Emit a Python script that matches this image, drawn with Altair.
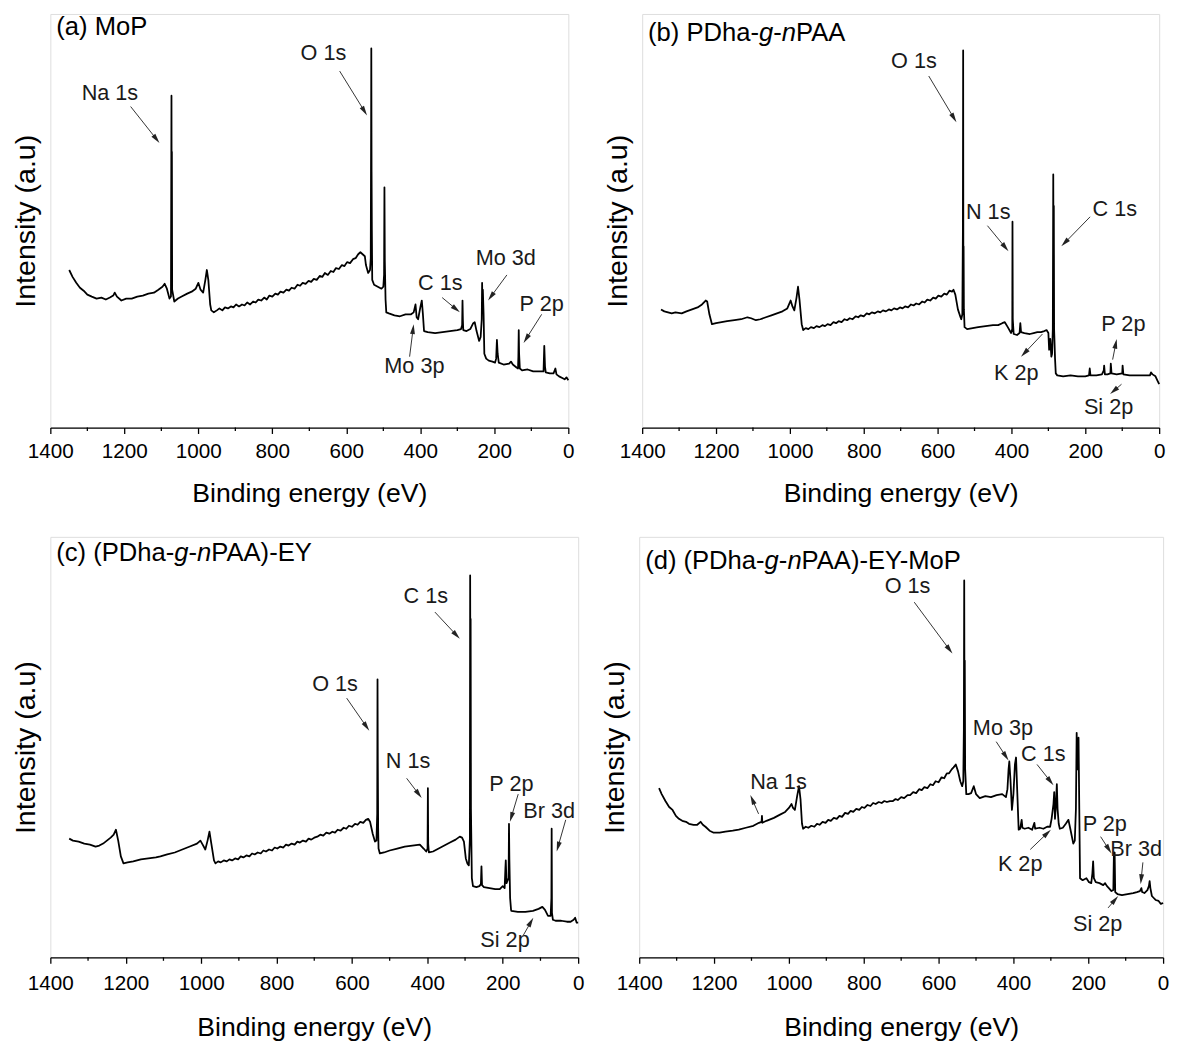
import math
import altair as alt
import pandas as pd

FONT = "Liberation Sans"

# ---------------- Panel (a) MoP ----------------
a_energy = [1349, 1340, 1330, 1320, 1310, 1300, 1288, 1275, 1262, 1250, 1239, 1230, 1226, 1220, 1208, 1195,
            1180, 1165, 1150, 1135, 1120, 1108, 1097, 1091, 1085, 1078, 1074, 1072.6, 1072.0, 1071.5, 1070.8,
            1065, 1055, 1045, 1030, 1018, 1007, 1000, 994, 987, 981, 977, 973, 968,
            965, 958, 950, 943, 935, 928, 920, 912, 905, 898, 890, 882, 875, 868, 860, 852, 845, 838, 830,
            822, 815, 808, 800, 792, 785, 778, 770, 762, 755, 748, 740, 732, 725, 718, 710, 702, 695, 688,
            680, 672, 665, 658, 650, 642, 635, 628, 620, 612, 605, 598, 590, 582, 575, 568, 562,
            556, 550, 547, 541, 536, 534, 533, 532.5, 531.8, 531, 530, 525, 515, 505, 500, 498, 497, 496, 494,
            492, 485, 470, 455, 440, 425, 418, 413, 410, 406, 400, 396, 393, 390, 380, 360, 340, 320, 300, 290,
            287, 286, 285, 284, 275, 265, 257, 253, 248, 241, 237, 234, 233, 232, 231, 229, 227, 222, 215, 205,
            198, 195, 193, 191, 188, 175, 160, 155, 150, 140, 136, 135, 134, 133, 131, 125, 110, 95, 80, 67,
            65, 63, 61, 50, 40, 37, 35, 32, 25, 15, 10, 5, 0]
a_intensity = [160, 153, 147, 142, 139, 135, 133, 131, 132, 130, 132, 134, 137, 133, 129, 131,
               131, 133, 134, 136, 137, 140, 143, 146, 141, 131, 133, 337, 200, 280, 140,
               128, 131, 133, 136, 138, 141, 147, 140, 137, 150, 160, 150, 125,
               119, 117, 119, 121, 119, 122, 121, 123, 122, 125, 123, 125, 124, 127, 125, 128, 127, 130, 129,
               132, 130, 134, 133, 136, 135, 138, 137, 140, 139, 142, 141, 145, 144, 147, 146, 149, 148, 151,
               150, 154, 153, 157, 155, 159, 158, 162, 161, 165, 164, 168, 167, 171, 172, 176, 178,
               176, 174, 165, 157, 160, 172, 300, 385, 260, 200, 150, 145, 143, 141, 143, 155, 244, 170, 130,
               117, 116, 114, 113, 115, 115, 117, 125, 112, 110, 122, 129, 115, 98, 97, 96, 97, 98, 99, 100,
               104, 129, 110, 99, 98, 100, 106, 107, 98, 88, 92, 110, 147, 120, 140, 115, 75, 70, 68, 67,
               66, 70, 89, 75, 66, 64, 65, 67, 64, 61, 60, 72, 99, 75, 60, 58, 59, 57, 57, 57,
               83, 62, 56, 55, 55, 58, 60, 54, 52, 50, 49, 51, 48]
a_labels = ["Na 1s", "O 1s", "C 1s", "Mo 3d", "P 2p", "Mo 3p"]
a_text_e = [1239, 662, 346, 169, 72, 416]
a_text_i = [340, 380, 147, 172, 125, 62]
a_from_e = [1183, 618, 341, 166, 72, 429]
a_from_i = [326, 362, 132, 155, 115, 72]
a_to_e = [1105, 544, 293, 217, 121, 418]
a_to_i = [289, 317, 117, 129, 86, 105]

# ---------------- Panel (b) PDha-g-nPAA ----------------
b_energy = [1349, 1340, 1330, 1320, 1310, 1293, 1280, 1265, 1250, 1238, 1228, 1224, 1218, 1211, 1200, 1185,
            1170, 1150, 1132, 1115, 1105, 1092, 1080, 1065, 1050, 1035, 1020, 1007, 998, 993, 988, 982, 978,
            974, 968,
            964, 957, 950, 943, 935, 928, 920, 912, 905, 898, 890, 882, 875, 868, 860, 852, 845, 838, 830,
            822, 815, 808, 800, 792, 785, 778, 770, 762, 755, 748, 740, 732, 725, 718, 710, 702, 695, 688,
            680, 672, 665, 658, 650, 642, 635, 628, 620, 612, 605, 598, 590, 582, 575, 568, 561, 557,
            552, 545, 538, 536, 533, 531.5, 530.8, 530.2, 529.6, 528.8, 527,
            520, 505, 490, 470, 450, 436, 425, 418, 410, 401, 397.8, 397.2, 396.4, 394, 385, 378, 376, 374,
            365, 350, 340, 330, 320, 311, 305, 300, 298, 295, 292, 290, 288, 286.8, 286, 285.3, 284.5, 282,
            280, 276, 260, 240, 220, 200, 190, 188, 186, 170, 155, 150, 149, 147, 140, 132, 131, 129, 115,
            100, 99, 97, 80, 60, 40, 25, 22, 18, 10, 5, 0]
b_intensity = [120, 118, 117, 116, 117, 116, 118, 120, 122, 125, 129, 128, 115, 105, 106, 107,
               108, 109, 110, 112, 111, 109, 110, 112, 114, 116, 118, 121, 129, 123, 119, 132, 143,
               130, 105,
               99, 101, 100, 102, 101, 103, 102, 104, 103, 105, 104, 107, 106, 108, 107, 110, 109, 111, 110,
               113, 112, 114, 113, 116, 115, 117, 116, 118, 117, 119, 118, 120, 119, 121, 120, 122, 121, 123,
               122, 125, 124, 126, 125, 128, 127, 130, 129, 132, 131, 134, 133, 136, 135, 139, 138, 140,
               135, 120, 112, 110, 115, 200, 383, 150, 184, 120, 102,
               100, 101, 102, 103, 104, 104, 106, 107, 102, 96, 100, 209, 110, 95, 94, 96, 106, 97,
               96, 95, 96, 97, 97, 98, 99, 96, 79, 90, 72, 75, 100, 257, 150, 225, 100, 70,
               55, 53, 52, 53, 52, 52, 53, 60, 53, 53, 54, 58, 63, 54, 54, 55, 65, 55, 54,
               55, 63, 54, 53, 53, 53, 53, 56, 54, 52, 48, 44]
b_labels = ["O 1s", "N 1s", "C 1s", "K 2p", "P 2p", "Si 2p"]
b_text_e = [664, 463, 120, 387, 97, 137]
b_text_i = [372, 219, 222, 55, 105, 21]
b_from_e = [624, 465, 187, 316, 126, 102]
b_from_i = [357, 205, 214, 95, 69, 44]
b_to_e = [549, 408, 265, 374, 115, 133]
b_to_i = [310, 179, 184, 72, 90, 34]

# ---------------- Panel (c) (PDha-g-nPAA)-EY ----------------
c_energy = [1350, 1340, 1325, 1310, 1295, 1280, 1270, 1260, 1250, 1240, 1232, 1226, 1220, 1213, 1206, 1195,
            1180, 1160, 1140, 1120, 1108, 1090, 1070, 1050, 1030, 1011, 1002, 996, 989, 983, 978, 973, 966,
            962, 955, 948, 940, 932, 925, 918, 910, 902, 895, 888, 880, 872, 865, 858, 850, 842, 835, 828,
            820, 812, 805, 798, 790, 782, 775, 768, 760, 752, 745, 738, 730, 722, 715, 708, 700, 692, 684,
            676, 668, 660, 652, 645, 638, 630, 622, 615, 608, 600, 592, 585, 578, 570, 563, 557,
            552, 545, 539, 535, 533, 532.2, 531.5, 530.5, 529.5, 526, 515, 500, 480, 460, 440,
            420, 410, 403, 399.5, 398.6, 397.8, 396, 385, 370, 355, 340, 325, 314, 308, 303, 298, 294, 290,
            287.2, 286.5, 285.8, 285.2, 284.4, 282, 279, 270, 262, 258, 256.5, 255, 250, 235, 220, 208, 200,
            195, 193, 192, 190, 184.5, 183.5, 182.5, 180.5, 178, 177, 160, 140, 120, 105, 95, 88, 80, 73, 71,
            70.3, 69.5, 67, 60, 45, 30, 20, 12, 8, 4, 0]
c_intensity = [120, 118, 117, 115, 114, 112, 113, 115, 118, 121, 124, 129, 118, 102, 95, 96,
               97, 99, 100, 101, 102, 104, 106, 109, 112, 115, 118, 114, 109, 118, 127, 115, 98,
               95, 97, 96, 98, 97, 99, 98, 100, 99, 102, 101, 103, 102, 105, 104, 106, 105, 108, 107,
               109, 108, 111, 110, 112, 111, 114, 113, 115, 114, 117, 116, 118, 117, 120, 119, 121, 122, 124,
               123, 126, 125, 127, 126, 129, 128, 131, 130, 133, 132, 135, 134, 137, 136, 139, 140,
               137, 125, 117, 118, 145, 281, 200, 130, 110, 105, 106, 108, 110, 112, 113,
               114, 110, 107, 110, 171, 115, 106, 107, 110, 113, 116, 119, 122, 121, 117, 100, 95, 93,
               120, 386, 250, 342, 150, 80, 72, 71, 72, 74, 92, 73, 71, 70, 69, 69, 72,
               70, 90, 98, 75, 80, 135, 100, 60, 48, 47, 46, 46, 47, 49, 51, 48, 42, 42, 60,
               130, 45, 38, 37, 37, 36, 36, 38, 40, 35, 35]
c_labels = ["O 1s", "C 1s", "N 1s", "P 2p", "Br 3d", "Si 2p"]
c_text_e = [645, 404, 451, 177, 77, 194]
c_text_i = [276, 365, 198, 175, 148, 17]
c_from_e = [614, 380, 455, 159, 33, 146]
c_from_i = [262, 349, 181, 165, 139, 22]
c_to_e = [554, 314, 415, 181, 57, 119]
c_to_i = [229, 322, 161, 137, 107, 40]

# ---------------- Panel (d) (PDha-g-nPAA)-EY-MoP ----------------
d_energy = [1347, 1340, 1330, 1320, 1311, 1302, 1294, 1285, 1275, 1267, 1255, 1245, 1236, 1230, 1223, 1212,
            1201, 1185, 1170, 1150, 1134, 1115, 1095, 1080, 1073, 1072, 1071, 1060, 1040, 1025, 1010, 1000,
            993, 989, 984, 978, 973, 969, 965,
            962, 955, 948, 940, 932, 925, 918, 910, 902, 895, 888, 880, 872, 865, 858, 850, 842, 835, 828,
            820, 812, 805, 798, 790, 782, 775, 768, 760, 752, 745, 738, 730, 722, 715, 709, 700, 692, 683,
            676, 668, 660, 652, 645, 638, 630, 622, 615, 608, 600, 592, 585, 578, 572, 565, 560, 554,
            548, 542, 537, 534, 532.5, 531.5, 530.7, 530,
            529, 526, 520, 513, 506, 500, 490, 475, 460, 445, 430, 420, 416, 413, 411, 408, 404, 400, 396,
            393, 390, 386, 382, 378, 376, 370, 360, 350, 344, 342, 330, 320, 310, 302, 298, 293, 291, 289,
            287, 284, 282, 279, 276, 268, 260, 253, 248, 240, 236, 233, 231, 229, 227, 226, 224, 222, 215,
            205, 198, 192, 189, 187, 185, 180, 170, 160, 155, 150, 145, 138, 133, 131.5, 130.5, 129.5, 128,
            122, 110, 95, 80, 70, 62, 58, 56, 50, 42, 38, 36, 34, 30, 25, 20, 12, 6, 0]
d_intensity = [171, 165, 158, 152, 149, 143, 140, 138, 137, 135, 134, 134, 137, 134, 132, 128,
               126, 126, 127, 128, 129, 131, 133, 136, 137, 143, 136, 138, 141, 144, 147, 151,
               155, 151, 149, 163, 173, 160, 135,
               130, 132, 131, 133, 132, 135, 134, 137, 136, 139, 138, 141, 140, 143, 142, 146, 145, 148, 147,
               150, 149, 152, 151, 154, 153, 156, 155, 157, 156, 158, 157, 158, 158, 160, 159, 162, 161, 164,
               164, 167, 166, 170, 169, 172, 171, 175, 174, 178, 177, 182, 181, 186, 186, 190, 192, 195,
               188, 178, 173, 178, 230, 381, 230, 300,
               190, 165, 165, 166, 173, 165, 161, 163, 162, 164, 165, 162, 170, 190, 198, 180, 149, 165, 195,
               202, 170, 129, 130, 139, 131, 130, 131, 129, 136, 130, 131, 130, 132, 132, 140, 155, 167, 140,
               150, 175, 150, 135, 130, 131, 135, 139, 130, 115, 118, 150, 227, 190, 200, 222, 150, 80, 78,
               80, 76, 75, 85, 97, 80, 76, 75, 73, 75, 72, 70, 67, 68, 106, 105, 106, 66,
               64, 63, 64, 65, 66, 67, 70, 66, 65, 68, 72, 77, 70, 62, 60, 58, 57, 54, 55]
d_labels = ["O 1s", "Na 1s", "Mo 3p", "C 1s", "K 2p", "P 2p", "Br 3d", "Si 2p"]
d_text_e = [683, 1028, 428, 320, 382, 156, 72, 175]
d_text_i = [375, 177, 232, 205, 94, 135, 109, 34]
d_from_e = [665, 1081, 446, 337, 355, 167, 54, 147]
d_from_i = [359, 145, 218, 195, 109, 122, 96, 50]
d_to_e = [563, 1103, 413, 293, 300, 138, 60, 120]
d_to_i = [307, 164, 199, 174, 129, 105, 74, 62]

# panel titles: (text, italic)
a_title = [("(a) MoP", False)]
b_title = [("(b) PDha-", False), ("g", True), ("-", False), ("n", True), ("PAA", False)]
c_title = [("(c) (PDha-", False), ("g", True), ("-", False), ("n", True), ("PAA)-EY", False)]
d_title = [("(d) (PDha-", False), ("g", True), ("-", False), ("n", True), ("PAA)-EY-MoP", False)]

# axis ticks
major_ticks = [0, 200, 400, 600, 800, 1000, 1200, 1400]
minor_ticks = [100, 300, 500, 700, 900, 1100, 1300]

# Arial / Liberation Sans advance widths (1/1000 em)
ADV = {' ': 278, '(': 333, ')': 333, '-': 333, 'a': 556, 'b': 556, 'c': 500, 'd': 556, 'g': 556,
       'h': 556, 'n': 556, 'o': 556, 'M': 833, 'P': 667, 'D': 722, 'A': 667, 'E': 667, 'Y': 667}

TITLE_SIZE = 26
HEAD_PATH = "M0,-1L0.5,1L-0.5,1Z"
HEAD_SIZE = 100
HEAD_HALF = 5.0


def make_panel(energy, intensity, ymax, W, H, labels, te, ti, fe, fi, ae, ai, title, ytpad, title_y,
               lab_pad, xt_pad):
    assert len(energy) == len(intensity)
    spec = pd.DataFrame({"E": energy, "I": intensity, "idx": list(range(len(energy)))})
    xs = alt.Scale(domain=[0, 1400], reverse=True, nice=False, zero=False)
    ys = alt.Scale(domain=[0, ymax], nice=False, zero=False)
    xtitle = "Binding energy (eV)"
    ytitle = "Intensity (a.u)"
    xaxis = alt.Axis(values=major_ticks, format="d", tickSize=6,
                     tickWidth=1.3, tickColor="black", domainColor="black", domainWidth=1.3,
                     labelFontSize=21, labelColor="black", labelPadding=lab_pad, labelFlush=False,
                     labelOverlap=False, labelFont=FONT, titleFont=FONT, titleFontSize=27,
                     titleFontWeight="normal", titleColor="black", titlePadding=xt_pad, grid=False)
    yaxis = alt.Axis(labels=False, ticks=False, domain=False, grid=False, titleFont=FONT,
                     titleFontSize=29, titleFontWeight="normal", titleColor="black", titlePadding=ytpad)

    line = alt.Chart(spec).mark_line(color="black", strokeWidth=1.8, strokeJoin="round").encode(
        x=alt.X("E:Q", scale=xs, axis=xaxis, title=xtitle),
        y=alt.Y("I:Q", scale=ys, axis=yaxis, title=ytitle),
        order=alt.Order("idx:Q"),
    )

    minor = alt.Chart(pd.DataFrame({"m": minor_ticks})).mark_rule(color="black", strokeWidth=1.3).encode(
        x=alt.X("m:Q", scale=xs, title=xtitle), y=alt.value(H), y2=alt.value(H + 3.5))

    rows = []
    for k in range(len(labels)):
        sx = -(ae[k] - fe[k]) * W / 1400.0
        sy = -(ai[k] - fi[k]) * H / ymax
        L = math.hypot(sx, sy)
        ux, uy = sx / L, sy / L
        ang = math.degrees(math.atan2(ux, -uy)) % 360
        he = ae[k] + ux * HEAD_HALF * 1400.0 / W
        hi = ai[k] + uy * HEAD_HALF * ymax / H
        rows.append({"label": labels[k], "te": te[k], "ti": ti[k], "fe": fe[k], "fi": fi[k],
                     "he": he, "hi": hi, "ang": ang})
    ann = pd.DataFrame(rows)

    rules = alt.Chart(ann).mark_rule(color="#333333", strokeWidth=1).encode(
        x=alt.X("fe:Q", scale=xs, title=xtitle), y=alt.Y("fi:Q", scale=ys, title=ytitle),
        x2="he:Q", y2="hi:Q")
    heads = alt.Chart(ann).mark_point(shape=HEAD_PATH, filled=True, opacity=1, color="#222222",
                                      size=HEAD_SIZE, strokeWidth=0).encode(
        x=alt.X("he:Q", scale=xs, title=xtitle), y=alt.Y("hi:Q", scale=ys, title=ytitle),
        angle=alt.Angle("ang:Q", scale=None))
    texts = alt.Chart(ann).mark_text(font=FONT, fontSize=22, color="#1a1a1a", align="center",
                                     baseline="middle").encode(
        x=alt.X("te:Q", scale=xs, title=xtitle), y=alt.Y("ti:Q", scale=ys, title=ytitle),
        text="label:N")

    layers = [line, minor, rules, heads, texts]
    xpos = 6.0
    for seg, ital in title:
        one = pd.DataFrame({"t": [seg]})
        layers.append(alt.Chart(one).mark_text(font=FONT, fontSize=TITLE_SIZE, color="black",
                                               align="left", baseline="middle",
                                               fontStyle="italic" if ital else "normal").encode(
            x=alt.value(xpos), y=alt.value(title_y), text="t:N"))
        xpos += sum(ADV.get(ch, 556) for ch in seg) / 1000.0 * TITLE_SIZE

    return alt.layer(*layers).properties(width=W, height=H)


pa = make_panel(a_energy, a_intensity, 420, 526, 420, a_labels, a_text_e, a_text_i, a_from_e, a_from_i,
                a_to_e, a_to_i, a_title, 10, 13, 7, 20)
pb = make_panel(b_energy, b_intensity, 420, 525, 420, b_labels, b_text_e, b_text_i, b_from_e, b_from_i,
                b_to_e, b_to_i, b_title, 10, 19, 7, 20)
pc = make_panel(c_energy, c_intensity, 425, 536, 427, c_labels, c_text_e, c_text_i, c_from_e, c_from_i,
                c_to_e, c_to_i, c_title, 10, 16, 10, 21)
pd_ = make_panel(d_energy, d_intensity, 425, 532, 427, d_labels, d_text_e, d_text_i, d_from_e, d_from_i,
                 d_to_e, d_to_i, d_title, 10, 25, 10, 21)

top = alt.hconcat(pa, pb, spacing=28)
bottom = alt.hconcat(pc, pd_, spacing=15)
chart = alt.vconcat(top, bottom, spacing=29).properties(
    padding={"left": 3, "top": -3, "right": 0, "bottom": 0}
).configure_view(stroke="black", strokeWidth=1.3).configure(font=FONT, background="white")

chart.save("out.html", embed_options={"renderer": "svg", "actions": False})
